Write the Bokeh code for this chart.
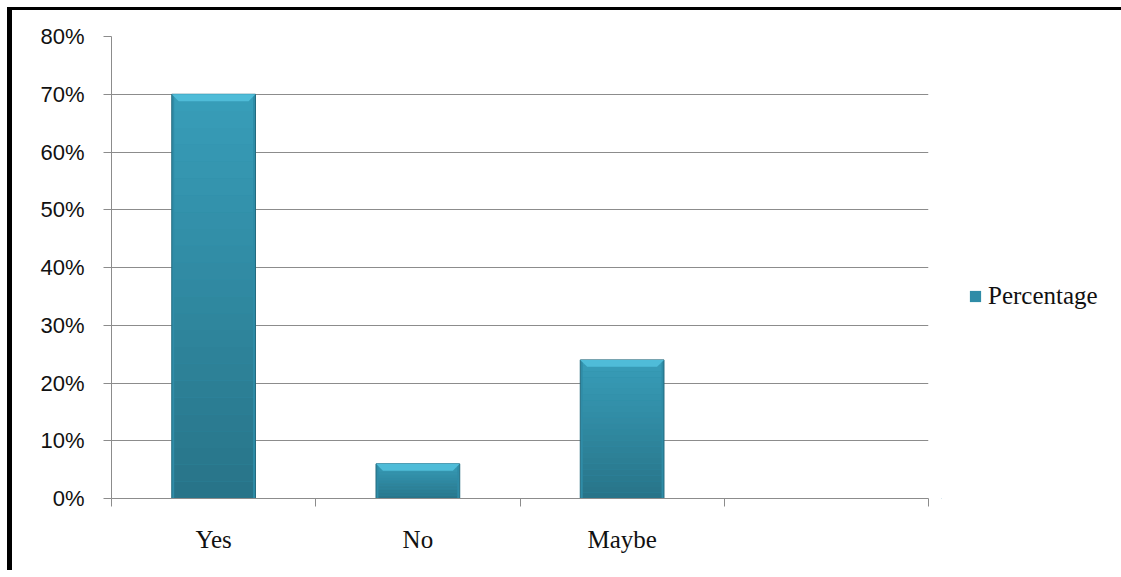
from bokeh.plotting import figure
from bokeh.models import (Range1d, FixedTicker, NumeralTickFormatter, Legend, LegendItem)
from bokeh.layouts import row
from bokeh.embed import file_html
from bokeh.resources import INLINE

# ---- data ----
categories = ["Yes", "No", "Maybe", ""]
percentages = [0.70, 0.06, 0.24]
y_ticks = [0.0, 0.1, 0.2, 0.3, 0.4, 0.5, 0.6, 0.7, 0.8]
series_name = "Percentage"

# ---- styles ----
GRID = "#8c8c8c"
BAR_MID = "#2f8ca7"
BAR_TOP = (56, 158, 186)
BAR_BOT = (40, 116, 136)
BEVEL = "#4fbcd8"
EDGE = "#236a7e"
BAR_W = 0.41
N_SEG = 24
LEG_W = 180

p = figure(width=1109 - LEG_W, height=560, output_backend="svg", toolbar_location=None,
           x_range=Range1d(0, len(categories)), y_range=Range1d(0, 0.8),
           min_border_left=99, min_border_top=26, min_border_right=1109 - LEG_W - 99 - 817,
           min_border_bottom=72)
p.outline_line_color = None
p.background_fill_color = "white"
p.border_fill_color = "white"

x_centers = [i + 0.5 for i in range(len(percentages))]

# base bar
base = p.vbar(x=x_centers, top=percentages, bottom=0, width=BAR_W,
              fill_color=BAR_MID, line_color=EDGE, line_width=1)

# vertical gradient segments
for k in range(N_SEG):
    t = (k + 0.5) / N_SEG
    c = tuple(int(BAR_BOT[j] + (BAR_TOP[j] - BAR_BOT[j]) * t) for j in range(3))
    col = "#%02x%02x%02x" % c
    p.quad(left=[x - BAR_W / 2 + 0.012 for x in x_centers],
           right=[x + BAR_W / 2 - 0.012 for x in x_centers],
           bottom=[v * k / N_SEG for v in percentages],
           top=[v * (k + 1) / N_SEG for v in percentages],
           fill_color=col, line_color=None)

# top bevel
dx, dy = 0.034, 0.012
xs, ys = [], []
for x, v in zip(x_centers, percentages):
    xs.append([x - BAR_W / 2, x + BAR_W / 2, x + BAR_W / 2 - dx, x - BAR_W / 2 + dx])
    ys.append([v, v, v - dy, v - dy])
p.patches(xs, ys, fill_color=BEVEL, line_color=None)

# axes
p.xgrid.visible = False
p.ygrid.ticker = FixedTicker(ticks=y_ticks)
p.ygrid.grid_line_color = GRID
p.ygrid.grid_line_width = 1

p.yaxis.ticker = FixedTicker(ticks=y_ticks)
p.yaxis.formatter = NumeralTickFormatter(format="0%")
p.yaxis.axis_line_color = GRID
p.yaxis.major_tick_line_color = GRID
p.yaxis.major_tick_out = 8
p.yaxis.major_tick_in = 0
p.yaxis.minor_tick_line_color = None
p.yaxis.major_label_standoff = 19
p.yaxis.major_label_text_font = "Liberation Sans"
p.yaxis.major_label_text_font_size = "22px"
p.yaxis.major_label_text_color = "#111111"

p.xaxis.ticker = FixedTicker(ticks=[i + 0.5 for i in range(len(categories))],
                             minor_ticks=list(range(len(categories) + 1)))
p.xaxis.major_label_overrides = {i + 0.5: c for i, c in enumerate(categories)}
p.xaxis.axis_line_color = GRID
p.xaxis.major_tick_line_color = None
p.xaxis.major_tick_out = 0
p.xaxis.major_tick_in = 0
p.xaxis.minor_tick_line_color = GRID
p.xaxis.minor_tick_out = 8
p.xaxis.minor_tick_in = 0
p.xaxis.major_label_standoff = 19
p.xaxis.major_label_text_font = "Liberation Serif"
p.xaxis.major_label_text_font_size = "25px"
p.xaxis.major_label_text_color = "#111111"

# legend panel (separate figure so the legend is not clipped)
q = figure(width=LEG_W, height=560, output_backend="svg", toolbar_location=None,
           x_range=Range1d(10, 11), y_range=Range1d(10, 11),
           min_border_left=0, min_border_right=0, min_border_top=0, min_border_bottom=0)
q.axis.visible = False
q.grid.visible = False
q.outline_line_color = None
q.border_fill_color = "white"
# same series, drawn outside q's visible range: only its legend swatch shows
leg_r = q.vbar(x=x_centers, top=percentages, width=0.1, fill_color=BAR_MID,
               line_color=None)
legend = Legend(items=[LegendItem(label=series_name, renderers=[leg_r])],
                location=(27, 188), border_line_color=None,
                background_fill_alpha=0, padding=0, margin=0, spacing=0,
                glyph_width=14, glyph_height=14, label_standoff=6,
                label_text_font="Liberation Serif", label_text_font_size="25px",
                label_text_color="#111111")
q.add_layout(legend, "center")

layout = row(p, q)
layout.styles = {"border-top": "3px solid black", "border-left": "5px solid black",
                 "margin-left": "7px", "margin-top": "7px"}

open("out.html", "w").write(file_html(layout, INLINE))
